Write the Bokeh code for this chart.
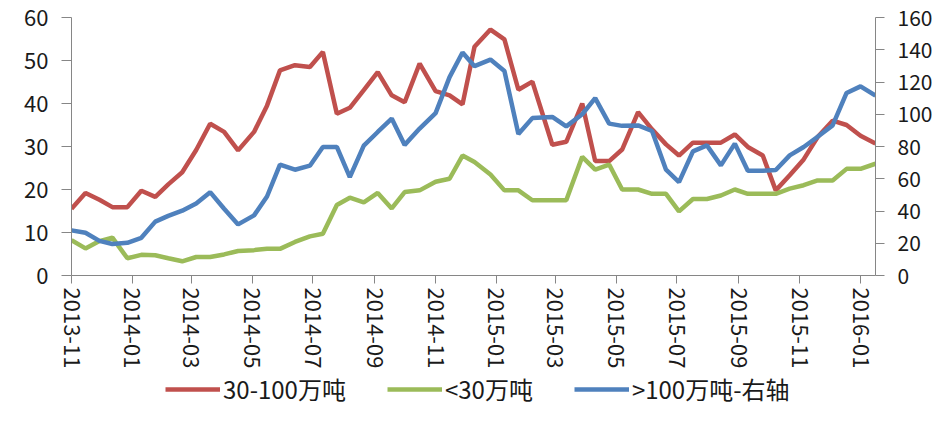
from datetime import datetime
import pandas as pd
from bokeh.plotting import figure
from bokeh.layouts import column
from bokeh.models import (Range1d, LinearAxis, FixedTicker, MonthsTicker, DatetimeTickFormatter,
                          Legend, LegendItem, ColumnDataSource)
from bokeh.embed import file_html
from bokeh.resources import INLINE

dates = ["2013-11-01", "2013-11-15", "2013-11-29", "2013-12-12", "2013-12-27",
         "2014-01-10", "2014-01-24", "2014-02-06", "2014-02-20", "2014-03-06",
         "2014-03-20", "2014-04-03", "2014-04-17", "2014-05-03", "2014-05-16",
         "2014-05-29", "2014-06-13", "2014-06-28", "2014-07-11", "2014-07-25",
         "2014-08-07", "2014-08-21", "2014-09-04", "2014-09-18", "2014-10-01",
         "2014-10-16", "2014-11-01", "2014-11-15", "2014-11-28", "2014-12-10",
         "2014-12-26", "2015-01-09", "2015-01-23", "2015-02-06", "2015-02-26",
         "2015-03-12", "2015-03-28", "2015-04-10", "2015-04-24", "2015-05-07",
         "2015-05-23", "2015-06-06", "2015-06-20", "2015-07-03", "2015-07-17",
         "2015-07-31", "2015-08-14", "2015-08-28", "2015-09-10", "2015-09-25",
         "2015-10-08", "2015-10-22", "2015-11-05", "2015-11-19", "2015-12-04",
         "2015-12-18", "2016-01-01", "2016-01-16"]

mid_30_100 = [15.5, 19.2, 17.6, 15.9, 15.9, 19.7, 18.3, 21.2, 24.0, 29.2,
              35.3, 33.4, 29.1, 33.4, 39.5, 47.7, 48.9, 48.5, 52.0, 37.6,
              39.0, 43.1, 47.3, 41.9, 40.3, 49.3, 42.9, 41.9, 39.8, 53.2,
              57.2, 54.9, 43.2, 45.1, 30.4, 31.1, 40.0, 26.6, 26.6, 29.3,
              38.0, 34.0, 30.5, 27.9, 30.9, 30.9, 30.9, 32.8, 29.9, 27.9,
              19.8, 23.3, 27.0, 32.2, 36.0, 35.0, 32.5, 30.7]

small_lt30 = [8.2, 6.3, 8.0, 8.8, 4.0, 4.8, 4.7, 4.0, 3.3, 4.3,
              4.3, 4.9, 5.7, 5.9, 6.2, 6.2, 7.8, 9.1, 9.7, 16.4,
              18.1, 17.0, 19.2, 15.6, 19.4, 19.8, 21.8, 22.5, 27.9, 26.4,
              23.5, 19.8, 19.8, 17.5, 17.5, 17.5, 27.6, 24.6, 25.8, 20.0,
              20.0, 19.0, 19.0, 14.9, 17.8, 17.8, 18.6, 20.0, 19.0, 19.0,
              19.0, 20.2, 21.0, 22.1, 22.1, 24.8, 24.8, 26.0]

large_gt100 = [28.0, 26.5, 21.5, 19.5, 20.3, 23.4, 33.4, 37.0, 40.2, 44.7,
               51.7, 41.4, 31.7, 37.3, 49.0, 68.8, 65.6, 68.1, 79.7, 79.7,
               61.0, 80.5, 89.0, 97.3, 81.0, 91.1, 100.7, 123.0, 138.3, 129.8,
               133.9, 126.8, 87.7, 97.6, 98.3, 92.5, 100.0, 110.0, 94.2, 92.8,
               93.1, 89.6, 65.6, 57.9, 77.0, 80.7, 68.3, 81.8, 65.0, 65.0,
               65.4, 74.5, 79.7, 86.0, 93.1, 113.2, 117.3, 111.5]

series_labels = ["30-100万吨", "<30万吨", ">100万吨-右轴"]
series_colors = ["#C0504D", "#9BBB59", "#4F81BD"]
left_ticks = [0, 10, 20, 30, 40, 50, 60]
right_ticks = [0, 20, 40, 60, 80, 100, 120, 140, 160]

src = ColumnDataSource(dict(x=pd.to_datetime(dates), a=mid_30_100, b=small_lt30, c=large_gt100))

FONT = "Noto Sans CJK SC"
TEXT = "#1a1a1a"
AXIS = "#868686"

xr = Range1d(datetime(2013, 11, 1), datetime(2016, 1, 16))

p = figure(width=935, height=371, x_axis_type="datetime", x_range=xr,
           y_range=Range1d(0, 60), output_backend="svg", toolbar_location=None,
           min_border_left=71, min_border_right=59, min_border_top=17, min_border_bottom=96)
p.extra_y_ranges = {"right": Range1d(0, 160)}
p.outline_line_color = None
p.xgrid.visible = False
p.ygrid.visible = False
p.background_fill_color = "white"
p.border_fill_color = "white"

cols = ["a", "b", "c"]
r1 = p.line("x", "a", source=src, line_color=series_colors[0], line_width=4.5)
r2 = p.line("x", "b", source=src, line_color=series_colors[1], line_width=4.5)
r3 = p.line("x", "c", source=src, line_color=series_colors[2], line_width=4.5, y_range_name="right")

xa = p.xaxis[0]
xa.ticker = MonthsTicker(months=[0, 2, 4, 6, 8, 10])
xa.formatter = DatetimeTickFormatter(days="%Y-%m", months="%Y-%m", years="%Y-%m")
xa.major_label_orientation = "vertical"
xa.major_tick_out = 8
xa.major_tick_in = 0
xa.minor_tick_line_color = None
xa.major_label_standoff = 4

ya = p.yaxis[0]
ya.ticker = FixedTicker(ticks=left_ticks)
ya.major_tick_out = 10
ya.major_tick_in = 0
ya.minor_tick_line_color = None
ya.major_label_standoff = 13

yr = LinearAxis(y_range_name="right", ticker=FixedTicker(ticks=right_ticks))
yr.major_tick_out = 9
yr.major_tick_in = 0
yr.minor_tick_line_color = None
yr.major_label_standoff = 13
p.add_layout(yr, "right")

for ax in [xa, ya, yr]:
    ax.axis_line_color = AXIS
    ax.major_tick_line_color = AXIS
    ax.major_label_text_font = FONT
    ax.major_label_text_font_size = "22px"
    ax.major_label_text_color = TEXT
yr.major_label_text_font_size = "21px"

# legend strip below the chart (its key lines use the same series, kept outside its view)
lg = figure(width=935, height=35, x_axis_type="datetime", x_range=xr, y_range=Range1d(-2, -1),
            output_backend="svg", toolbar_location=None,
            x_axis_location=None, y_axis_location=None,
            min_border_left=0, min_border_right=0, min_border_top=0, min_border_bottom=0)
lg.outline_line_color = None
lg.xgrid.visible = False
lg.ygrid.visible = False
lg.border_fill_color = "white"
lg.background_fill_color = "white"
items = []
for lab, colr, cname in zip(series_labels, series_colors, cols):
    rr = lg.line("x", cname, source=src, line_color=colr, line_width=4.5)
    items.append(LegendItem(label=lab, renderers=[rr]))

legend = Legend(items=items, location=(94, 0), orientation="horizontal")
legend.label_text_font = FONT
legend.label_text_font_size = "24px"
legend.label_text_color = TEXT
legend.glyph_width = 55
legend.glyph_height = 24
legend.label_height = 24
legend.label_standoff = 3
legend.spacing = 41
legend.padding = 0
legend.margin = 0
legend.border_line_color = None
legend.background_fill_alpha = 0
lg.add_layout(legend, "center")

layout = column(p, lg, spacing=0)
open("out.html", "w").write(file_html(layout, INLINE))
